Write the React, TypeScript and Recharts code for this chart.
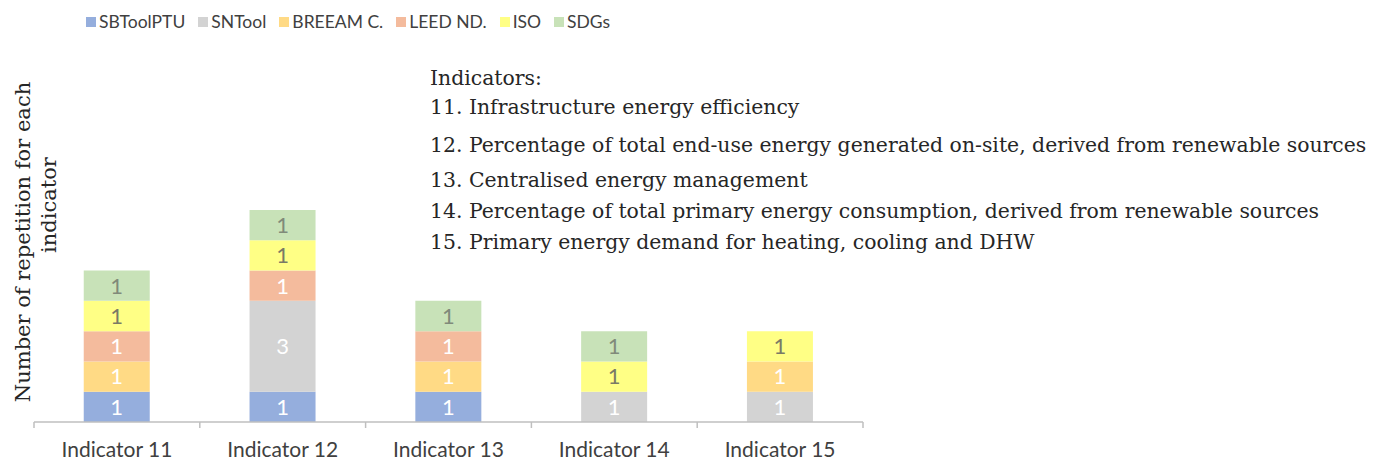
import React from 'react';
import { BarChart, Bar, XAxis, YAxis, LabelList } from 'recharts';

const categories = ['Indicator 11', 'Indicator 12', 'Indicator 13', 'Indicator 14', 'Indicator 15'];

const sbToolPtu = [1, 1, 1, 0, 0];
const snTool = [0, 3, 0, 1, 1];
const breeam = [1, 0, 1, 0, 1];
const leed = [1, 1, 1, 0, 0];
const iso = [1, 1, 0, 1, 1];
const sdgs = [1, 1, 1, 1, 0];

const series = [
  { key: 'sbtool', name: 'SBToolPTU', values: sbToolPtu, color: '#95AEDD', label: '#ffffff' },
  { key: 'sntool', name: 'SNTool', values: snTool, color: '#D3D3D3', label: '#ffffff' },
  { key: 'breeam', name: 'BREEAM C.', values: breeam, color: '#FFDA85', label: '#ffffff' },
  { key: 'leed', name: 'LEED ND.', values: leed, color: '#F4BB9D', label: '#ffffff' },
  { key: 'iso', name: 'ISO', values: iso, color: '#FFFF85', label: '#7a7a66' },
  { key: 'sdgs', name: 'SDGs', values: sdgs, color: '#C8E2B8', label: '#808a7a' },
];

const notesTitle = 'Indicators:';
const notes = [
  '11. Infrastructure energy efficiency',
  '12. Percentage of total end-use energy generated on-site, derived from renewable sources',
  '13. Centralised energy management',
  '14. Percentage of total primary energy consumption, derived from renewable sources',
  '15. Primary energy demand for heating, cooling and DHW',
];
const noteY = [114, 152, 187, 218, 249];

const yLabel1 = 'Number of repetition for each';
const yLabel2 = 'indicator';

const data = categories.map((name, i) => {
  const row: Record<string, string | number> = { name };
  series.forEach((s) => {
    row[s.key] = s.values[i];
  });
  return row;
});

const SANS = 'Lato, "Open Sans", sans-serif';
const SERIF = '"DejaVu Serif", serif';

const AxisTick = (props: any) => {
  const { x, y, payload, index } = props;
  const half = payload && payload.offset ? payload.offset : 82.7;
  return (
    <g>
      <line x1={x - half} y1={y - 8} x2={x - half} y2={y - 2} stroke="#bfbfbf" strokeWidth={1.5} />
      {index === categories.length - 1 && (
        <line x1={x + half} y1={y - 8} x2={x + half} y2={y - 2} stroke="#bfbfbf" strokeWidth={1.5} />
      )}
      <text x={x} y={y + 27} textAnchor="middle" fill="#404040" fontSize={21} fontFamily={SANS}>
        {payload.value}
      </text>
    </g>
  );
};

export default function App() {
  return (
    <div style={{ position: 'absolute', left: 0, top: 0, width: 1387, height: 464, background: '#fff' }}>
      <div
        style={{
          position: 'absolute',
          left: 86,
          top: 10,
          display: 'flex',
          fontFamily: SANS,
          fontSize: 17.5,
          color: '#404040',
          lineHeight: '24px',
          whiteSpace: 'nowrap',
        }}
      >
        {series.map((s) => (
          <div key={s.key} style={{ display: 'flex', alignItems: 'center', marginRight: 13, flexShrink: 0 }}>
            <span
              style={{ width: 10, height: 10, background: s.color, marginRight: 3, display: 'inline-block', flexShrink: 0 }}
            />
            <span>{s.name}</span>
          </div>
        ))}
      </div>
      <BarChart
        width={1387}
        height={464}
        data={data}
        margin={{ top: 210, right: 524, bottom: 12, left: 34 }}
        barCategoryGap="30%"
      >
        <YAxis hide domain={[0, 7]} />
        <XAxis
          dataKey="name"
          height={30}
          axisLine={{ stroke: '#bfbfbf', strokeWidth: 1.5 }}
          tickLine={false}
          tick={<AxisTick />}
          interval={0}
        />
        {series.map((s) => (
          <Bar key={s.key} dataKey={s.key} name={s.name} stackId="a" fill={s.color} isAnimationActive={false}>
            <LabelList
              dataKey={s.key}
              position="center"
              fill={s.label}
              fontSize={22}
              fontFamily={SANS}
              formatter={(v: any) => (v ? v : '')}
            />
          </Bar>
        ))}
      </BarChart>
      <svg width={1387} height={464} style={{ position: 'absolute', left: 0, top: 0, pointerEvents: 'none' }}>
        <text x={430} y={85} fontFamily={SERIF} fontSize={20.4} fill="#262626">
          {notesTitle}
        </text>
        {notes.map((n, i) => (
          <text key={i} x={430} y={noteY[i]} fontFamily={SERIF} fontSize={20.4} fill="#262626">
            {n}
          </text>
        ))}
        <text
          transform="translate(30, 242) rotate(-90)"
          textAnchor="middle"
          fontFamily={SERIF}
          fontSize={21}
          fill="#262626"
        >
          {yLabel1}
        </text>
        <text
          transform="translate(56, 205) rotate(-90)"
          textAnchor="middle"
          fontFamily={SERIF}
          fontSize={21}
          fill="#262626"
        >
          {yLabel2}
        </text>
      </svg>
    </div>
  );
}
